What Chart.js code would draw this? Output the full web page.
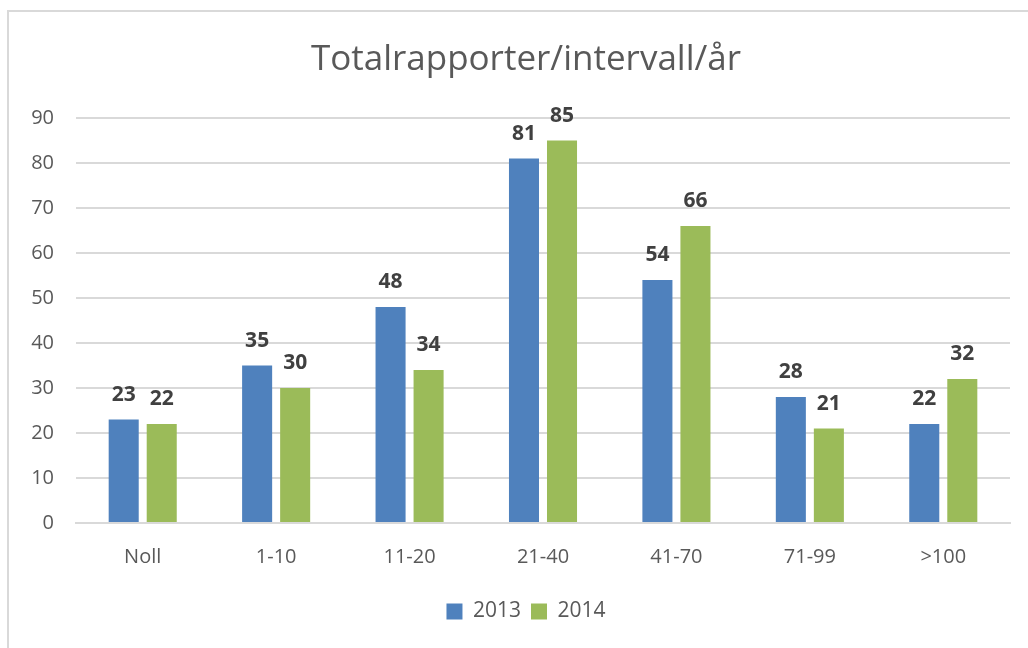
<!DOCTYPE html>
<html>
<head>
<meta charset="utf-8">
<script src="https://cdn.jsdelivr.net/npm/chart.js@4/dist/chart.umd.min.js"></script>
<style>
    html, body { margin: 0; padding: 0; background: #fff; }
    #wrap { width: 1028px; height: 648px; }
</style>
</head>
<body>
<div id="wrap"><canvas id="chart" width="1028" height="648"></canvas></div>
<script>
// Data
const categories = ['Noll', '1-10', '11-20', '21-40', '41-70', '71-99', '>100'];
const values2013 = [23, 35, 48, 81, 54, 28, 22];
const values2014 = [22, 30, 34, 85, 66, 21, 32];
const seriesNames = ['2013', '2014'];
const yTicks = [0, 10, 20, 30, 40, 50, 60, 70, 80, 90];
const chartTitle = 'Totalrapporter/intervall/år';

const FONT = "'Open Sans', 'Noto Sans', sans-serif";
const textGray = '#595959';

// Frame around the chart (cut off on the right and bottom like the reference)
// plus the title, which sits a bit right of the canvas centre
const framePlugin = {
    id: 'frame',
    beforeDraw(chart) {
        const ctx = chart.ctx;
        ctx.save();
        ctx.strokeStyle = '#d9d9d9';
        ctx.lineWidth = 2;
        ctx.beginPath();
        ctx.moveTo(8, 700);
        ctx.lineTo(8, 11);
        ctx.lineTo(1040, 11);
        ctx.stroke();
        ctx.font = "35px " + FONT;
        ctx.fillStyle = textGray;
        ctx.textAlign = 'center';
        ctx.textBaseline = 'middle';
        ctx.fillText(chartTitle, 526, 60);
        ctx.restore();
    }
};

// Legend is also centred a little right of the canvas centre
const shiftLegend = {
    id: 'shiftLegend',
    afterLayout(chart) {
        chart.legend.left += 16;
        chart.legend.right += 16;
    }
};

// Value labels above bars
const barLabels = {
    id: 'barLabels',
    afterDatasetsDraw(chart) {
        const ctx = chart.ctx;
        ctx.save();
        ctx.font = "bold 21px " + FONT;
        ctx.fillStyle = '#404040';
        ctx.textAlign = 'center';
        ctx.textBaseline = 'alphabetic';
        chart.data.datasets.forEach((ds, i) => {
            const meta = chart.getDatasetMeta(i);
            meta.data.forEach((bar, j) => {
                ctx.fillText(ds.data[j], bar.x, bar.y - 19);
            });
        });
        ctx.restore();
    }
};

const ctx = document.getElementById('chart');
new Chart(ctx, {
    type: 'bar',
    data: {
        labels: categories,
        datasets: [
            { label: seriesNames[0], data: values2013, backgroundColor: '#4f81bd' },
            { label: seriesNames[1], data: values2014, backgroundColor: '#9bbb59' }
        ]
    },
    options: {
        responsive: false,
        animation: false,
        devicePixelRatio: 1,
        categoryPercentage: 0.57,
        barPercentage: 0.79,
        layout: { padding: { left: 10, right: 18, top: 118, bottom: 16 } },
        plugins: {
            title: { display: false },
            legend: {
                position: 'bottom',
                labels: {
                    color: textGray,
                    font: { family: FONT, size: 21 },
                    boxWidth: 16,
                    boxHeight: 16,
                    padding: 10
                }
            },
            tooltip: { enabled: false }
        },
        scales: {
            x: {
                grid: { display: false, drawTicks: false },
                border: { color: '#d9d9d9', width: 2 },
                ticks: { color: textGray, font: { family: FONT, size: 20 }, padding: 22 }
            },
            y: {
                min: 0,
                max: 90,
                afterFit(scale) { scale.width = 66; },
                afterBuildTicks(scale) { scale.ticks = yTicks.map(v => ({ value: v })); },
                grid: { color: '#d9d9d9', lineWidth: 2, drawTicks: false },
                border: { display: false },
                ticks: { color: textGray, font: { family: FONT, size: 20 }, padding: 22 }
            }
        }
    },
    plugins: [framePlugin, shiftLegend, barLabels]
});
</script>
</body>
</html>
